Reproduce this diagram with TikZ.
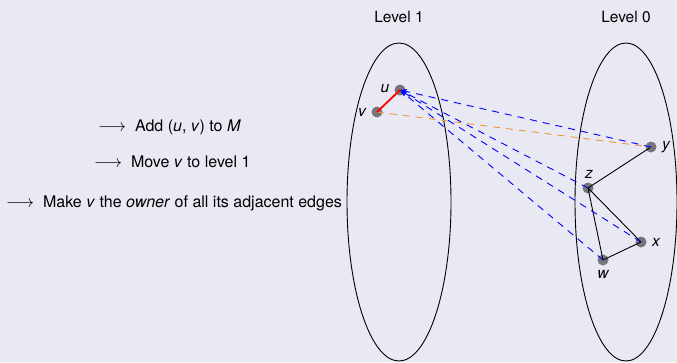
\documentclass[tikz,border=0pt]{standalone}
\usepackage{fontspec}
\setmainfont{TeX Gyre Heros}
\usetikzlibrary{arrows.meta}
\definecolor{bgcol}{RGB}{233,233,243}
\definecolor{dotgray}{RGB}{118,118,122}
\definecolor{orangeline}{RGB}{240,150,60}
\newcommand{\myarrow}{$\longrightarrow$\hspace{9pt}}
\tikzset{
  vtx/.style={circle, fill=dotgray, inner sep=0pt, minimum size=11pt},
  lbl/.style={font=\fontsize{15.5}{18}\selectfont\itshape, inner sep=1pt},
  txt/.style={font=\fontsize{16}{19}\selectfont, anchor=west, inner sep=0pt},
  lvl/.style={font=\fontsize{15.5}{18}\selectfont},
  blueedge/.style={blue, line width=0.9pt, dash pattern=on 7pt off 6pt, -{Stealth[length=7pt,width=5pt]}},
  orangeedge/.style={orangeline, line width=0.9pt, dash pattern=on 7pt off 6pt},
  plain/.style={black, line width=0.9pt},
  setline/.style={black, line width=0.9pt}
}
\begin{document}
\begin{tikzpicture}[x=1pt,y=-1pt]
\fill[bgcol] (0,0) rectangle (677,362);
\useasboundingbox (0,0) rectangle (677,362);
% level sets
\draw[setline] (399,202) ellipse [x radius=52, y radius=159];
\draw[setline] (626,202) ellipse [x radius=51, y radius=159];
\node[lvl] (l1) at (399,17) {Level 1};
\node[lvl] (l0) at (626,17) {Level 0};
% vertices
\node[vtx] (u) at (400,90) {};
\node[vtx] (v) at (377,112) {};
\node[vtx] (y) at (651,147) {};
\node[vtx] (z) at (588,188) {};
\node[vtx] (x) at (641,242) {};
\node[vtx] (w) at (603,260) {};
\node[lbl] (ul) at (385,89) {u};
\node[lbl] (vl) at (362,112) {v};
\node[lbl] (yl) at (666,147) {y};
\node[lbl] (zl) at (589,174) {z};
\node[lbl] (xl) at (656,242) {x};
\node[lbl] (wl) at (603,274) {w};
% edges
\draw[plain] (y.center) -- (z.center);
\draw[plain] (z.center) -- (x.center);
\draw[plain] (z.center) -- (w.center);
\draw[plain] (w.center) -- (x.center);
\draw[orangeedge] (v.center) -- (y.center);
\draw[blueedge] (y.center) -- (u.center);
\draw[blueedge] (z.center) -- (u.center);
\draw[blueedge] (x.center) -- (u.center);
\draw[blueedge] (w.center) -- (u.center);
\draw[red, line width=1.8pt] (u.center) -- (v.center);
% text
\node[txt] (t1) at (98,127) {\myarrow Add (\textit{u}, \textit{v}) to \textit{M}};
\node[txt] (t2) at (94,162) {\myarrow Move \textit{v} to level 1};
\node[txt] (t3) at (6,203) {\myarrow Make \textit{v} the \textit{owner} of all its adjacent edges};
\end{tikzpicture}
\end{document}
